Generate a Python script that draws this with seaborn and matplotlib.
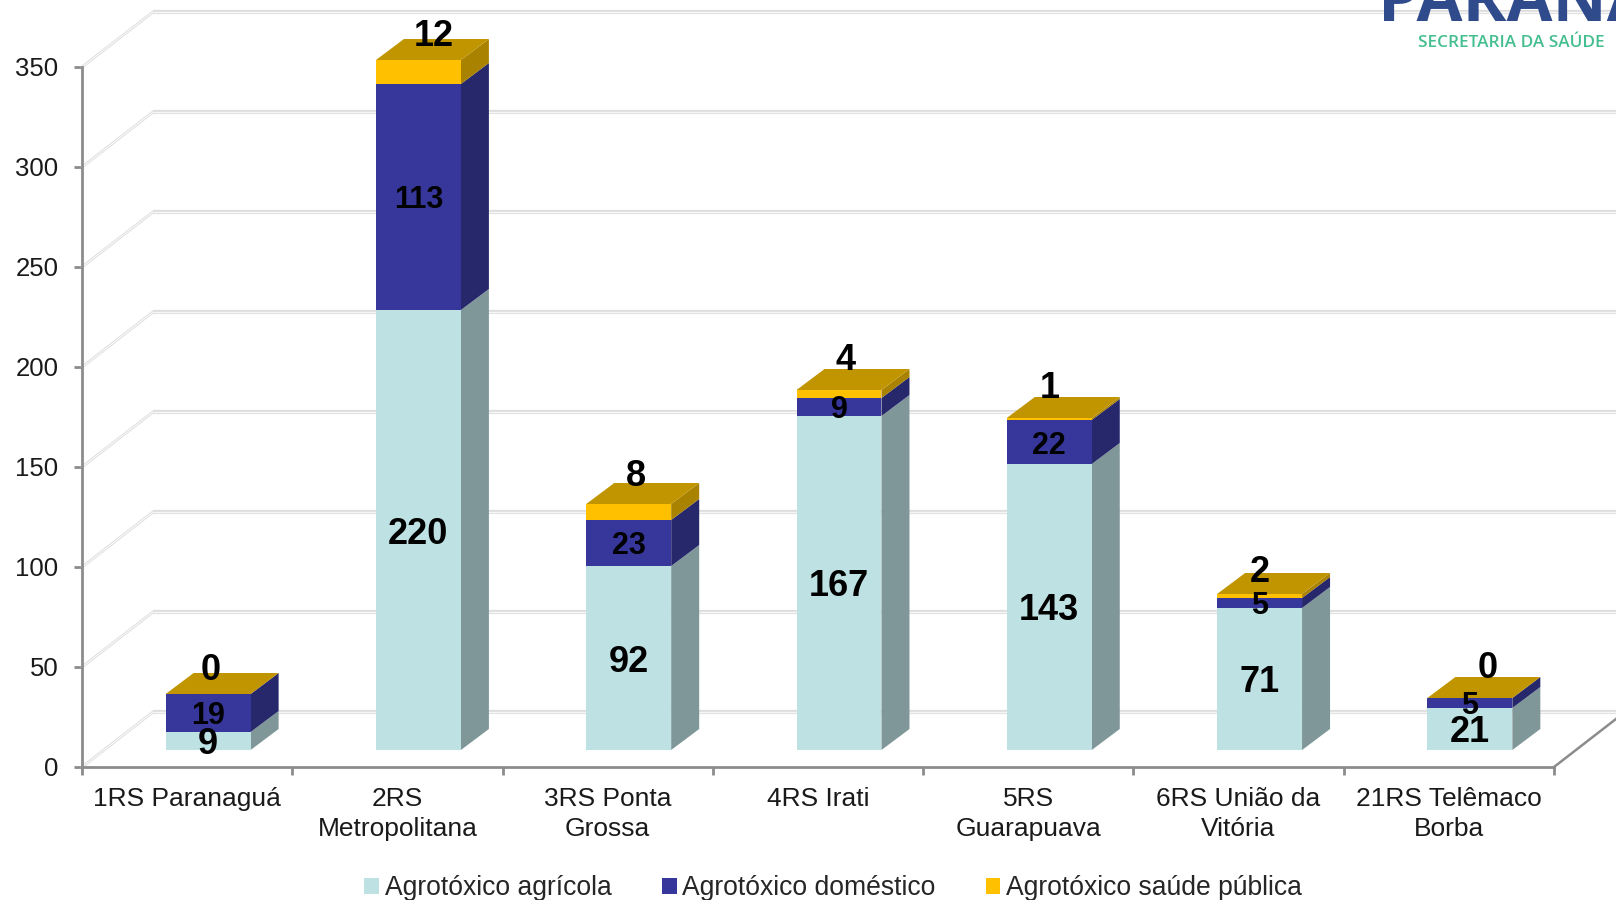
import numpy as np
import pandas as pd
import seaborn as sns
import matplotlib.pyplot as plt

categorias = ["1RS Paranaguá", "2RS\nMetropolitana", "3RS Ponta\nGrossa", "4RS Irati",
              "5RS\nGuarapuava", "6RS União da\nVitória", "21RS Telêmaco\nBorba"]
agricola = [9, 220, 92, 167, 143, 71, 21]
domestico = [19, 113, 23, 9, 22, 5, 5]
saude_publica = [0, 12, 8, 4, 1, 2, 0]
nomes = ["Agrotóxico agrícola", "Agrotóxico doméstico", "Agrotóxico saúde pública"]
y_ticks = [0, 50, 100, 150, 200, 250, 300, 350]

# cores: frente, lateral
cor_frente = ["#BEE2E4", "#37379B", "#FFC000"]
cor_lado = ["#7F9798", "#27276B", "#A98300"]
cor_topo = "#C19500"

# deslocamentos do "3D" em unidades dos dados (1 categoria = 210.3 px, 1 unidade = 2 px)
PX_X = 1 / 210.3
PX_Y = 1 / 2.0
FLOOR_X, FLOOR_Y = 21 * PX_X, 17 * PX_Y
DEPTH_X, DEPTH_Y = 28 * PX_X, 21 * PX_Y
WALL_X, WALL_Y = 71 * PX_X, 55 * PX_Y

# ajuste manual dos rotulos da serie de cima (px)
top_dx = [3, 15, 7, 7, 0, 0, 18]
top_dy = [28, 27, 31, 33, 33, 26, 33]

sns.set_theme(style="white")
plt.rcParams["font.family"] = ["Liberation Sans", "DejaVu Sans"]

fig = plt.figure(figsize=(16.16, 9), dpi=100)
ax = fig.add_axes([82 / 1616, (900 - 767) / 900, (1554 - 82) / 1616, 700 / 900])

df = pd.DataFrame({"regional": categorias, nomes[0]: agricola, nomes[1]: domestico, nomes[2]: saude_publica})

base = np.zeros(len(categorias))
for i, nome in enumerate(nomes):
    n_antes = len(ax.patches)
    sns.barplot(data=df, x="regional", y=nome, bottom=base + FLOOR_Y, width=0.404, color=cor_frente[i],
                saturation=1, label=nome, ax=ax, zorder=4, clip_on=False, linewidth=0)
    barras = ax.patches[n_antes:]
    for j, bar in enumerate(barras):
        bar.set_x(bar.get_x() + FLOOR_X)
        x0 = bar.get_x()
        x1 = x0 + bar.get_width()
        y0 = bar.get_y()
        y1 = y0 + bar.get_height()
        # lateral
        ax.fill([x1, x1 + DEPTH_X, x1 + DEPTH_X, x1], [y0, y0 + DEPTH_Y, y1 + DEPTH_Y, y1],
                color=cor_lado[i], lw=0, zorder=3, clip_on=False)
        # rotulos
        valor = df[nome].iloc[j]
        if i < 2:
            tam = 26 if i == 0 else 22
            ax.text((x0 + x1) / 2, (y0 + y1) / 2, str(valor), ha="center", va="center_baseline",
                    fontsize=tam, fontweight="bold", color="black", zorder=6)
        else:
            ax.fill([x0, x1, x1 + DEPTH_X, x0 + DEPTH_X], [y1, y1, y1 + DEPTH_Y, y1 + DEPTH_Y],
                    color=cor_topo, lw=0, zorder=3, clip_on=False)
            ax.annotate(str(valor), ((x0 + x1) / 2, y1), xytext=(top_dx[j], top_dy[j]),
                        textcoords="offset pixels", ha="center", va="center_baseline",
                        fontsize=26, fontweight="bold", color="black", zorder=6, annotation_clip=False)
    base = base + df[nome].to_numpy()

ax.set_xlim(-0.5, len(categorias) - 0.5)
ax.set_ylim(0, 350)
ax.set_xlabel("")
ax.set_ylabel("")

# logo (fica atras da grade)
fig.text(1378 / 1616, 1 - 21 / 900, "PARANÁ", fontsize=48, fontweight="bold", color="#2F4B8C",
         family="Open Sans", ha="left", va="baseline", zorder=0)
fig.text(1511 / 1616, 1 - 43 / 900, "SECRETARIA DA SAÚDE", fontsize=12.3, fontweight="semibold", color="#45BE8F",
         family="Open Sans", ha="center", va="center", zorder=0)

# paredes: grade do fundo e linhas inclinadas
fim_x = len(categorias) - 0.5
for v in y_ticks:
    ax.plot([-0.5 + WALL_X, fim_x + WALL_X], [v + WALL_Y, v + WALL_Y], color="#DDDDDD", lw=3, zorder=1,
            clip_on=False, solid_capstyle="butt")
    ax.plot([-0.5 + WALL_X, fim_x + WALL_X], [v + WALL_Y, v + WALL_Y], color="#F7F7F7", lw=1, zorder=1.1,
            clip_on=False, solid_capstyle="butt")
    ax.plot([-0.5, -0.5 + WALL_X], [v, v + WALL_Y], color="#DCDCDC", lw=2, zorder=1, clip_on=False)
    ax.plot([-0.5, -0.5 + WALL_X], [v, v + WALL_Y], color="#FAFAFA", lw=0.8, zorder=1.1, clip_on=False)
ax.plot([fim_x, fim_x + WALL_X], [0, WALL_Y], color="#8C8C8C", lw=1.8, zorder=2, clip_on=False)

ax.patch.set_alpha(0)
sns.despine(ax=ax, top=True, right=True)
for lado in ["left", "bottom"]:
    ax.spines[lado].set_color("#8C8C8C")
    ax.spines[lado].set_linewidth(2)

ax.set_yticks(y_ticks)
ax.set_xticks(np.arange(-0.5, len(categorias)), minor=True)
ax.tick_params(axis="y", which="major", left=True, length=6, width=2, color="#8C8C8C",
               labelsize=18.5, labelcolor="#1A1A1A", pad=11)
ax.tick_params(axis="x", which="major", length=0, labelsize=19, labelcolor="#1A1A1A", pad=14.5)
ax.tick_params(axis="x", which="minor", bottom=True, length=6, width=2, color="#8C8C8C")
for t in ax.get_xticklabels():
    t.set_linespacing(1.32)

ax.legend(loc="center", bbox_to_anchor=(833 / 1616, 1 - 888 / 900), bbox_transform=fig.transFigure, ncol=3,
          frameon=False, fontsize=19.1, handlelength=0.56, handleheight=0.56, handletextpad=0.2, columnspacing=1.9,
          borderpad=0)

fig.savefig("out.png", dpi=100)
